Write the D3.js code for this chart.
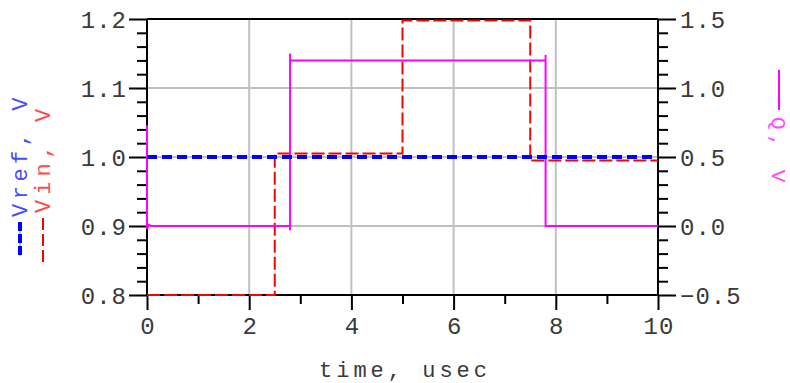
<!DOCTYPE html>
<html>
<head>
<meta charset="utf-8">
<script src="https://cdn.jsdelivr.net/npm/d3@7"></script>
<style>
  html, body { margin: 0; padding: 0; background: #fff; }
  svg { display: block; }
  text { font-family: "Liberation Mono", "DejaVu Sans Mono", monospace; }
</style>
</head>
<body>
<svg id="chart" width="790" height="383"></svg>
<script>
// ---- data ----
const timeDomain = [0, 10];          // usec
const leftDomain = [0.8, 1.2];       // V
const rightDomain = [-0.5, 1.5];     // V
const xMajorTicks = [0, 2, 4, 6, 8, 10];
const xMinorTicks = [1, 3, 5, 7, 9];
const leftMajorTicks = [0.8, 0.9, 1.0, 1.1, 1.2];
const leftTickLabels = ["0.8", "0.9", "1.0", "1.1", "1.2"];
const rightMajorTicks = [-0.5, 0.0, 0.5, 1.0, 1.5];
const rightTickLabels = ["\u22120.5", "0.0", "0.5", "1.0", "1.5"];
const xGridTicks = [2, 4, 6, 8];
const yGridTicks = [0.9, 1.0, 1.1];

// Vref, V (left axis)
const vrefTime = [0, 10];
const vrefValue = [1.0, 1.0];
// Vin, V (left axis) - step waveform
const vinTime = [0, 2.5, 2.5, 5.0, 5.0, 7.5, 7.5, 10];
const vinValue = [0.8, 0.8, 1.005, 1.005, 1.198, 1.198, 0.995, 0.995];
// Q, V (right axis)
const qTime = [0, 0, 0.04, 0.08, 2.8, 2.8, 2.8, 2.8, 7.8, 7.8, 7.8, 10];
const qValue = [0.73, -0.02, 0.01, 0, 0, -0.03, 1.25, 1.2, 1.2, 1.24, 0, 0];

// ---- layout ----
const svg = d3.select("#chart");
const X0 = 147, X1 = 658, Y0 = 295, Y1 = 19;
const x = d3.scaleLinear().domain(timeDomain).range([X0, X1]);
const yL = d3.scaleLinear().domain(leftDomain).range([Y0, Y1]);
const yR = d3.scaleLinear().domain(rightDomain).range([Y0, Y1]);

const leftMinor = d3.range(0.82, 1.2, 0.02).filter(v => Math.abs(Math.round(v * 10) - v * 10) > 1e-6);
const rightMinor = d3.range(-0.4, 1.5, 0.1).filter(v => Math.abs(Math.round(v * 2) - v * 2) > 1e-6);

const tickFont = 24;
const textFill = "#3a3a3a";

// grid
const grid = svg.append("g");
grid.selectAll("line.gx").data(xGridTicks).join("line")
  .attr("x1", d => x(d)).attr("x2", d => x(d))
  .attr("y1", Y1).attr("y2", Y0)
  .attr("stroke", "#c0c0c0").attr("stroke-width", 2);
grid.selectAll("line.gy").data(yGridTicks).join("line")
  .attr("x1", X0).attr("x2", X1)
  .attr("y1", d => yL(d)).attr("y2", d => yL(d))
  .attr("stroke", "#c0c0c0").attr("stroke-width", 2);

function styleAxis(g) {
  g.select(".domain").remove();
  g.selectAll(".tick line").attr("stroke", "#000").attr("stroke-width", 2);
  g.selectAll(".tick text")
    .attr("fill", textFill)
    .style("font-size", tickFont + "px")
    .style("letter-spacing", "1px");
}

// left axis: major + minor
svg.append("g").attr("transform", `translate(${X0},0)`)
  .call(d3.axisLeft(yL).tickValues(leftMinor).tickSize(10).tickFormat(""))
  .call(styleAxis);
svg.append("g").attr("transform", `translate(${X0},0)`)
  .call(d3.axisLeft(yL).tickValues(leftMajorTicks).tickSize(18).tickPadding(2)
    .tickFormat((d, i) => leftTickLabels[i]))
  .call(styleAxis)
  .call(g => g.selectAll(".tick text").attr("dy", "0.34em"));

// right axis
svg.append("g").attr("transform", `translate(${X1},0)`)
  .call(d3.axisRight(yR).tickValues(rightMinor).tickSize(10).tickFormat(""))
  .call(styleAxis);
svg.append("g").attr("transform", `translate(${X1},0)`)
  .call(d3.axisRight(yR).tickValues(rightMajorTicks).tickSize(18).tickPadding(4)
    .tickFormat((d, i) => rightTickLabels[i]))
  .call(styleAxis)
  .call(g => g.selectAll(".tick text").attr("dy", "0.34em"));

// bottom axis
svg.append("g").attr("transform", `translate(0,${Y0})`)
  .call(d3.axisBottom(x).tickValues(xMinorTicks).tickSize(9).tickFormat(""))
  .call(styleAxis);
svg.append("g").attr("transform", `translate(0,${Y0})`)
  .call(d3.axisBottom(x).tickValues(xMajorTicks).tickSize(15).tickPadding(7)
    .tickFormat(d3.format("d")))
  .call(styleAxis)
  .call(g => g.selectAll(".tick text").attr("text-anchor", "middle").attr("dx", "0.5px"));

// frame
const frame = svg.append("g").attr("stroke", "#000").attr("stroke-width", 2);
frame.append("line").attr("x1", X0).attr("x2", X1).attr("y1", Y1).attr("y2", Y1);
frame.append("line").attr("x1", X0).attr("x2", X1).attr("y1", Y0).attr("y2", Y0);
frame.append("line").attr("x1", X0).attr("x2", X0).attr("y1", Y1).attr("y2", Y0);
frame.append("line").attr("x1", X1).attr("x2", X1).attr("y1", Y1).attr("y2", Y0);

// series
const lineL = d3.line().x(d => x(d[0])).y(d => yL(d[1]));
const lineR = d3.line().x(d => x(d[0])).y(d => yR(d[1]));

svg.append("path")
  .datum(vinTime.map((t, i) => [t, vinValue[i]]))
  .attr("d", lineL).attr("fill", "none")
  .attr("stroke", "#ff0000").attr("stroke-width", 2)
  .attr("stroke-dasharray", "13,4");

svg.append("path")
  .datum(qTime.map((t, i) => [t, qValue[i]]))
  .attr("d", lineR).attr("fill", "none")
  .attr("stroke", "#ff00ff").attr("stroke-width", 2);

svg.append("path")
  .datum(vrefTime.map((t, i) => [t, vrefValue[i]]))
  .attr("d", lineL).attr("fill", "none")
  .attr("stroke", "#0000ff").attr("stroke-width", 4)
  .attr("stroke-dasharray", "10,5");

// axis title
svg.append("text")
  .attr("x", 405).attr("y", 377)
  .attr("text-anchor", "middle")
  .attr("fill", textFill)
  .style("font-size", "22px").style("letter-spacing", "4px")
  .text("time, usec");

// legends (left)
const leg = svg.append("g");
leg.append("line").attr("x1", 20).attr("x2", 20).attr("y1", 222).attr("y2", 256)
  .attr("stroke", "#c0c0c0").attr("stroke-width", 2);
leg.append("line").attr("x1", 20).attr("x2", 20).attr("y1", 222).attr("y2", 256)
  .attr("stroke", "#0000ff").attr("stroke-width", 4).attr("stroke-dasharray", "9,3");
leg.append("text")
  .attr("transform", "translate(27,217) rotate(-90)")
  .attr("fill", "#4a4aff")
  .style("font-size", "22px").style("letter-spacing", "4.5px")
  .text("Vref, V");

leg.append("line").attr("x1", 43).attr("x2", 43).attr("y1", 218).attr("y2", 263)
  .attr("stroke", "#ff0000").attr("stroke-width", 2).attr("stroke-dasharray", "12,4");
leg.append("text")
  .attr("transform", "translate(50,213) rotate(-90)")
  .attr("fill", "#ff4a4a")
  .style("font-size", "22px").style("letter-spacing", "5px")
  .text("Vin, V");

// legend (right)
leg.append("line").attr("x1", 779).attr("x2", 779).attr("y1", 70).attr("y2", 110)
  .attr("stroke", "#ff00ff").attr("stroke-width", 2);
leg.append("text")
  .attr("transform", "translate(772,117) rotate(90)")
  .attr("fill", "#ff4aff")
  .style("font-size", "21px").style("letter-spacing", "5px")
  .text("Q, V");
</script>
</body>
</html>
